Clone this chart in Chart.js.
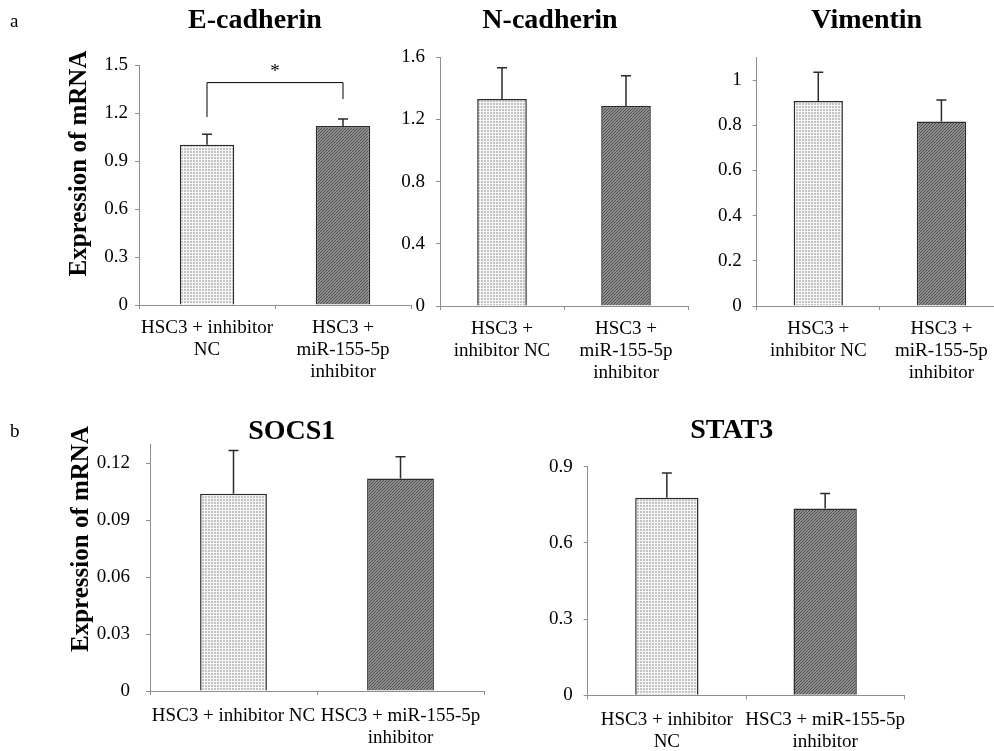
<!DOCTYPE html>
<html>
<head>
<meta charset="utf-8">
<script src="https://cdn.jsdelivr.net/npm/chart.js@4.4.1/dist/chart.umd.min.js"></script>
<style>
  html, body { margin: 0; padding: 0; background: #fff; overflow: hidden; }
  #wrap { position: relative; width: 1010px; height: 751px; }
  #wrap canvas { position: absolute; left: 0; top: 0; }
</style>
</head>
<body>
<div id="wrap">
  <canvas id="c-ecad" width="1010" height="751"></canvas>
  <canvas id="c-ncad" width="1010" height="751"></canvas>
  <canvas id="c-vim" width="1010" height="751"></canvas>
  <canvas id="c-socs" width="1010" height="751"></canvas>
  <canvas id="c-stat" width="1010" height="751"></canvas>
</div>
<script>
// ---- data ----
const labelsEcad = [['HSC3 + inhibitor', 'NC'], ['HSC3 +', 'miR-155-5p', 'inhibitor']];
const labelsMid = [['HSC3 +', 'inhibitor NC'], ['HSC3 +', 'miR-155-5p', 'inhibitor']];
const labelsSocs = [['HSC3 + inhibitor NC'], ['HSC3 + miR-155-5p', 'inhibitor']];
const labelsStat = [['HSC3 + inhibitor', 'NC'], ['HSC3 + miR-155-5p', 'inhibitor']];

const ecadValues = [1.002, 1.119];
const ecadErrors = [0.065, 0.044];
const ncadValues = [1.332, 1.287];
const ncadErrors = [0.201, 0.195];
const vimValues = [0.907, 0.816];
const vimErrors = [0.127, 0.096];
const socsValues = [0.1039, 0.1120];
const socsErrors = [0.0228, 0.0115];
const statValues = [0.778, 0.735];
const statErrors = [0.097, 0.059];

const ecadTicks = [0, 0.3, 0.6, 0.9, 1.2, 1.5];
const ecadTickLabels = ['0', '0.3', '0.6', '0.9', '1.2', '1.5'];
const ncadTicks = [0, 0.4, 0.8, 1.2, 1.6];
const ncadTickLabels = ['0', '0.4', '0.8', '1.2', '1.6'];
const vimTicks = [0, 0.2, 0.4, 0.6, 0.8, 1];
const vimTickLabels = ['0', '0.2', '0.4', '0.6', '0.8', '1'];
const socsTicks = [0, 0.03, 0.06, 0.09, 0.12];
const socsTickLabels = ['0', '0.03', '0.06', '0.09', '0.12'];
const statTicks = [0, 0.3, 0.6, 0.9];
const statTickLabels = ['0', '0.3', '0.6', '0.9'];

const SERIF = "'Liberation Serif', 'Times New Roman', serif";
const AXIS_GREY = '#8f8f8f';
Chart.defaults.font.family = SERIF;
Chart.defaults.color = '#000';

// Bar fills: fine dotted light grey, and dark diagonal hatch
function makePattern(kind) {
  const c = document.createElement('canvas');
  c.width = 3; c.height = 3;
  const g = c.getContext('2d');
  if (kind === 'dots') {
    g.fillStyle = '#c4c4c4'; g.fillRect(0, 0, 3, 3);
    g.fillStyle = '#f7f7f7'; g.fillRect(0, 0, 3, 1); g.fillRect(0, 0, 1, 3);
  } else {
    g.fillStyle = '#8e8e8e'; g.fillRect(0, 0, 3, 3);
    g.fillStyle = '#505050';
    for (let i = 0; i < 3; i++) g.fillRect(i, 2 - i, 1, 1);
  }
  return g.createPattern(c, 'repeat');
}
const fills = [makePattern('dots'), makePattern('hatch')];

// Error bars (upper only, with cap)
const errorBars = {
  id: 'errorBars',
  afterDatasetsDraw(chart) {
    const ctx = chart.ctx;
    const y = chart.scales.y;
    chart.data.datasets.forEach((ds, di) => {
      if (!ds.errors) return;
      chart.getDatasetMeta(di).data.forEach((bar, i) => {
        const top = y.getPixelForValue(ds.data[i] + ds.errors[i]);
        ctx.save();
        ctx.strokeStyle = '#2b2b2b';
        ctx.lineWidth = 1.5;
        ctx.beginPath();
        ctx.moveTo(bar.x, bar.y);
        ctx.lineTo(bar.x, top);
        ctx.moveTo(bar.x - 5, top);
        ctx.lineTo(bar.x + 5, top);
        ctx.stroke();
        ctx.restore();
      });
    });
  }
};

// Significance bracket between the two bars
const bracket = {
  id: 'bracket',
  afterDraw(chart, args, opts) {
    if (!opts || opts.level === undefined) return;
    const { ctx, scales: { x, y } } = chart;
    const x0 = x.getPixelForValue(0), x1 = x.getPixelForValue(1);
    const yl = y.getPixelForValue(opts.level);
    ctx.save();
    ctx.strokeStyle = '#000';
    ctx.lineWidth = 1;
    ctx.beginPath();
    ctx.moveTo(x0, y.getPixelForValue(opts.leftEnd));
    ctx.lineTo(x0, yl);
    ctx.lineTo(x1, yl);
    ctx.lineTo(x1, y.getPixelForValue(opts.rightEnd));
    ctx.stroke();
    ctx.fillStyle = '#000';
    ctx.font = '19px ' + SERIF;
    ctx.textAlign = 'center';
    ctx.textBaseline = 'middle';
    ctx.fillText(opts.text, (x0 + x1) / 2, y.getPixelForValue(opts.textAt));
    ctx.restore();
  }
};

// Free text: panel titles, y titles, panel letters
const panelText = {
  id: 'panelText',
  afterDraw(chart, args, opts) {
    const ctx = chart.ctx;
    (opts.items || []).forEach(t => {
      ctx.save();
      ctx.fillStyle = '#000';
      ctx.font = t.font;
      ctx.textAlign = t.align || 'center';
      ctx.textBaseline = 'alphabetic';
      ctx.translate(t.x, t.y);
      if (t.rotate) ctx.rotate(t.rotate);
      ctx.fillText(t.text, 0, 0);
      ctx.restore();
    });
  }
};

function panel(id, cfg) {
  const yW = 70, xH = cfg.xH;
  new Chart(document.getElementById(id), {
    type: 'bar',
    data: {
      labels: cfg.labels,
      datasets: [{
        data: cfg.values,
        errors: cfg.errors,
        backgroundColor: fills,
        borderColor: '#2b2b2b',
        borderWidth: 1.5,
        categoryPercentage: 1,
        barPercentage: 0.4
      }]
    },
    options: {
      responsive: false,
      animation: false,
      devicePixelRatio: 1,
      layout: {
        padding: {
          left: cfg.left - yW,
          top: cfg.top,
          right: 1010 - cfg.right,
          bottom: 751 - cfg.bottom - xH
        }
      },
      plugins: {
        legend: { display: false },
        tooltip: { enabled: false },
        bracket: cfg.bracket || {},
        panelText: { items: cfg.texts }
      },
      scales: {
        x: {
          afterFit: s => { s.height = xH; },
          border: { color: AXIS_GREY, width: 1 },
          grid: { offset: true, drawOnChartArea: false, tickLength: 4, color: AXIS_GREY },
          ticks: {
            autoSkip: false, maxRotation: 0, padding: cfg.xPad,
            font: { size: 19, lineHeight: '22px' }, color: '#000'
          }
        },
        y: {
          min: 0,
          max: cfg.max,
          afterFit: s => { s.width = yW; },
          afterBuildTicks: s => { s.ticks = cfg.ticks.map(v => ({ value: v })); },
          border: { color: AXIS_GREY, width: 1 },
          grid: { drawOnChartArea: false, tickLength: 4, color: AXIS_GREY },
          ticks: {
            padding: cfg.yPad,
            font: { size: 19 }, color: '#000',
            callback: (v, i) => cfg.tickLabels[i]
          }
        }
      }
    },
    plugins: [errorBars, bracket, panelText]
  });
}

const titleFont = 'bold 28px ' + SERIF;
const yTitleFont = 'bold 25px ' + SERIF;
const letterFont = '19px ' + SERIF;

panel('c-ecad', {
  labels: labelsEcad, values: ecadValues, errors: ecadErrors,
  ticks: ecadTicks, tickLabels: ecadTickLabels, max: 1.5,
  left: 139, top: 65, right: 411, bottom: 305, xH: 90, xPad: 8, yPad: 7,
  bracket: { level: 1.39, leftEnd: 1.175, rightEnd: 1.2875, text: '*', textAt: 1.455 },
  texts: [
    { text: 'a', x: 10, y: 27, font: letterFont, align: 'left' },
    { text: 'E-cadherin', x: 255, y: 28, font: titleFont },
    { text: 'Expression of mRNA', x: 86, y: 163.5, font: yTitleFont, rotate: -Math.PI / 2 }
  ]
});

panel('c-ncad', {
  labels: labelsMid, values: ncadValues, errors: ncadErrors,
  ticks: ncadTicks, tickLabels: ncadTickLabels, max: 1.6,
  left: 440, top: 57.3, right: 688, bottom: 306, xH: 90, xPad: 8, yPad: 11,
  texts: [{ text: 'N-cadherin', x: 550, y: 28, font: titleFont }]
});

panel('c-vim', {
  labels: labelsMid, values: vimValues, errors: vimErrors,
  ticks: vimTicks, tickLabels: vimTickLabels, max: 1.1,
  left: 756.7, top: 57.4, right: 1003, bottom: 306, xH: 90, xPad: 8, yPad: 11,
  texts: [{ text: 'Vimentin', x: 866.7, y: 28, font: titleFont }]
});

panel('c-socs', {
  labels: labelsSocs, values: socsValues, errors: socsErrors,
  ticks: socsTicks, tickLabels: socsTickLabels, max: 0.13,
  left: 150, top: 444.3, right: 484, bottom: 691, xH: 58, xPad: 10, yPad: 16,
  texts: [
    { text: 'b', x: 10, y: 437, font: letterFont, align: 'left' },
    { text: 'SOCS1', x: 291.7, y: 439, font: titleFont },
    { text: 'Expression of mRNA', x: 88, y: 539, font: yTitleFont, rotate: -Math.PI / 2 }
  ]
});

panel('c-stat', {
  labels: labelsStat, values: statValues, errors: statErrors,
  ticks: statTicks, tickLabels: statTickLabels, max: 0.9,
  left: 587.7, top: 466.7, right: 904.3, bottom: 695.3, xH: 55, xPad: 10, yPad: 11,
  texts: [{ text: 'STAT3', x: 731.7, y: 438, font: titleFont }]
});
</script>
</body>
</html>
